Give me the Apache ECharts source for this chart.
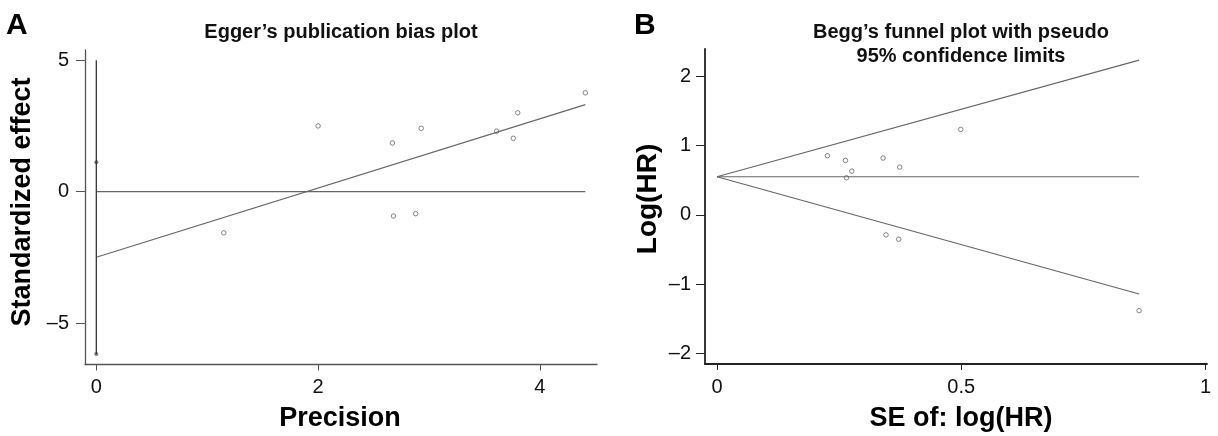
<!DOCTYPE html>
<html>
<head>
<meta charset="utf-8">
<title>Egger / Begg</title>
<script src="https://cdn.jsdelivr.net/npm/echarts@6/dist/echarts.min.js"></script>
<style>
  html, body { margin: 0; padding: 0; background: #fff; }
  #main { width: 1218px; height: 436px; }
</style>
</head>
<body>
<div id="main"></div>
<script>
// A: Egger - precision vs standardized effect
var eggerPrecision = [2.00, 2.67, 2.93, 3.61, 3.76, 3.80, 4.41, 2.68, 2.88, 1.15];
var eggerEffect    = [2.50, 1.85, 2.41, 2.30, 2.03, 3.00, 3.76, -0.93, -0.84, -1.57];
var eggerFitX  = [0, 4.41];
var eggerFitY  = [-2.50, 3.31];
var eggerZeroX = [0, 4.41];
var eggerZeroY = [0, 0];
var eggerCiY   = [5.0, -6.18];
var eggerCiDots = [1.12, -6.18];
var eggerXTicks = [0, 2, 4];
var eggerYTicks = [-5, 0, 5];

// B: Begg funnel - SE of log(HR) vs log(HR)
var beggSE     = [0.226, 0.263, 0.265, 0.276, 0.340, 0.374, 0.499, 0.346, 0.372, 0.864];
var beggLogHR  = [0.851, 0.784, 0.534, 0.630, 0.818, 0.688, 1.231, -0.289, -0.351, -1.381];
var funnelSE    = [0, 0.864];
var funnelMid   = [0.548, 0.548];
var funnelUpper = [0.548, 2.23];
var funnelLower = [0.548, -1.14];
var beggXTicks = [0, 0.5, 1];
var beggYTicks = [-2, -1, 0, 1, 2];

var FONT = "'Liberation Sans', Arial, sans-serif";

function pairs(xs, ys) {
    return xs.map(function (x, i) { return [x, ys[i]]; });
}
function minusFmt(v) {
    return String(v).replace('-', '\u2013');
}
function lineSeries(xi, xs, ys) {
    return {
        type: 'line', xAxisIndex: xi, yAxisIndex: xi,
        data: pairs(xs, ys), symbol: 'none', silent: true,
        lineStyle: { color: '#666', width: 1.1 }
    };
}
// tickLen / labelGap differ between x and y axes in the original
function axisBase(ticks, color, width, tickLen, margin) {
    return {
        type: 'value',
        splitLine: { show: false },
        axisLine: { show: true, onZero: false, lineStyle: { color: color, width: width } },
        axisTick: { show: true, customValues: ticks, length: tickLen, lineStyle: { color: color, width: 1 } },
        axisLabel: {
            customValues: ticks, formatter: minusFmt, margin: margin,
            color: '#111', fontSize: 20, fontFamily: FONT
        }
    };
}
function mk(base, extra) {
    for (var k in extra) base[k] = extra[k];
    return base;
}

var myChart = echarts.init(document.getElementById('main'));
var option = {
    animation: false,
    grid: [
        { left: 85, right: 621, top: 50, bottom: 71.5 },
        { left: 705, right: 11, top: 49, bottom: 72 }
    ],
    xAxis: [
        mk(axisBase(eggerXTicks, '#555', 1.3, 6, 13), { gridIndex: 0, min: -0.102, max: 4.515 }),
        mk(axisBase(beggXTicks, '#222', 1.8, 6, 13), { gridIndex: 1, min: -0.0245, max: 1.003 })
    ],
    yAxis: [
        mk(axisBase(eggerYTicks, '#555', 1.3, 9, 16), { gridIndex: 0, min: -6.58, max: 5.39 }),
        mk(axisBase(beggYTicks, '#222', 1.8, 9, 14), { gridIndex: 1, min: -2.15, max: 2.39 })
    ],
    graphic: [
        { type: 'text', x: 6, y: 11, style: { text: 'A', font: 'bold 30px ' + FONT, fill: '#000' } },
        { type: 'text', x: 634, y: 11, style: { text: 'B', font: 'bold 30px ' + FONT, fill: '#000' } },
        { type: 'text', x: 341, y: 32, style: { text: 'Egger\u2019s publication bias plot', font: 'bold 20px ' + FONT, fill: '#111', align: 'center', verticalAlign: 'middle' } },
        { type: 'text', x: 961, y: 44, style: { text: 'Begg\u2019s funnel plot with pseudo\n95% confidence limits', font: 'bold 20px ' + FONT, lineHeight: 24, fill: '#111', align: 'center', verticalAlign: 'middle' } },
        { type: 'text', x: 340, y: 419, style: { text: 'Precision', font: 'bold 27px ' + FONT, fill: '#000', align: 'center', verticalAlign: 'middle' } },
        { type: 'text', x: 961, y: 419, style: { text: 'SE of: log(HR)', font: 'bold 27px ' + FONT, fill: '#000', align: 'center', verticalAlign: 'middle' } },
        { type: 'text', x: 23, y: 202, rotation: Math.PI / 2, style: { text: 'Standardized effect', font: 'bold 27px ' + FONT, fill: '#000', align: 'center', verticalAlign: 'middle' } },
        { type: 'text', x: 648, y: 199, rotation: Math.PI / 2, style: { text: 'Log(HR)', font: 'bold 28px ' + FONT, fill: '#000', align: 'center', verticalAlign: 'middle' } }
    ],
    series: [
        lineSeries(0, eggerZeroX, eggerZeroY),
        lineSeries(0, eggerFitX, eggerFitY),
        {
            type: 'line', xAxisIndex: 0, yAxisIndex: 0, silent: true,
            data: pairs([0, 0], eggerCiY), symbol: 'none',
            lineStyle: { color: '#333', width: 1.3 }
        },
        {
            type: 'scatter', xAxisIndex: 0, yAxisIndex: 0, silent: true,
            data: eggerCiDots.map(function (v) { return [0, v]; }),
            symbolSize: 4, itemStyle: { color: '#555' }
        },
        {
            type: 'scatter', xAxisIndex: 0, yAxisIndex: 0, silent: true,
            data: pairs(eggerPrecision, eggerEffect),
            symbolSize: 4.5, itemStyle: { color: '#fff', borderColor: '#666', borderWidth: 1 }
        },
        lineSeries(1, funnelSE, funnelMid),
        lineSeries(1, funnelSE, funnelUpper),
        lineSeries(1, funnelSE, funnelLower),
        {
            type: 'scatter', xAxisIndex: 1, yAxisIndex: 1, silent: true,
            data: pairs(beggSE, beggLogHR),
            symbolSize: 4.5, itemStyle: { color: '#fff', borderColor: '#666', borderWidth: 1 }
        }
    ]
};
myChart.setOption(option);
</script>
</body>
</html>
